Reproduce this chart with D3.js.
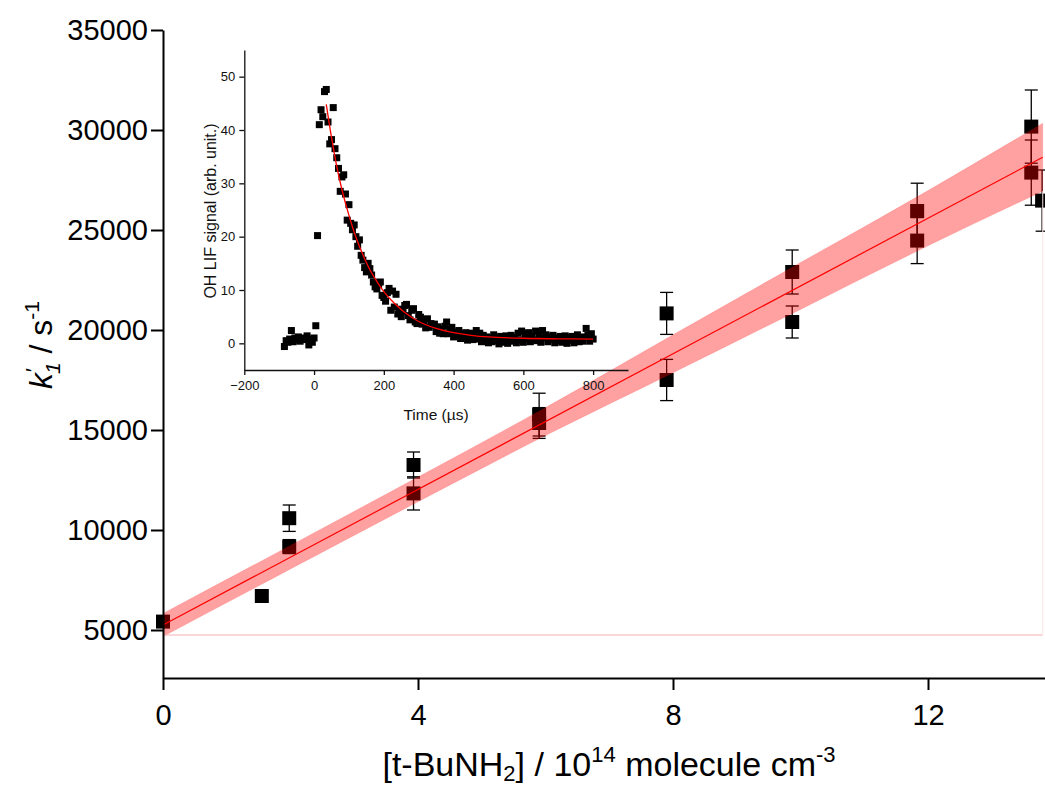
<!DOCTYPE html>
<html>
<head>
<meta charset="utf-8">
<script src="https://cdn.jsdelivr.net/npm/d3@7"></script>
<style>
  body { margin: 0; background: #fff; }
  svg text { font-family: "Liberation Sans", Arial, sans-serif; }
</style>
</head>
<body>
<div id="chart"></div>
<script>
// --- main plot: pseudo-first-order rate vs [t-BuNH2] ---
const concentration = [0, 1.55, 1.98, 1.98, 3.93, 3.93, 5.9, 5.9, 7.9, 7.9, 9.87, 9.87, 11.83, 11.83, 13.62, 13.62, 13.79];
const kFirst = [5420, 6700, 10590, 9170, 13250, 11830, 15770, 15350, 20830, 17500, 22900, 20400, 25950, 24470, 30170, 27870, 26470];
const kError = [150, 200, 660, 350, 650, 830, 1070, 770, 1050, 1030, 1100, 800, 1390, 1150, 1830, 1630, 1530];

// linear fit and its confidence band
const fitIntercept = 5250;
const fitSlope = 1695;
const fitEnd = 13.8;
const bandX = [0, 2, 4, 6, 8, 10, 12, 13.8];
const bandHalf = [575, 590, 620, 700, 950, 1170, 1380, 1700];
const bandBase = 4750;

const yMajor = [5000, 10000, 15000, 20000, 25000, 30000, 35000];
const yMinor = [3000, 4000, 6000, 7000, 8000, 9000, 11000, 12000, 13000, 14000, 16000, 17000, 18000, 19000,
  21000, 22000, 23000, 24000, 26000, 27000, 28000, 29000, 31000, 32000, 33000, 34000];
const xMajor = [0, 4, 8, 12];
const xMinor = [2 / 3, 4 / 3, 2, 8 / 3, 10 / 3, 14 / 3, 16 / 3, 6, 20 / 3, 22 / 3, 26 / 3, 28 / 3, 10, 32 / 3, 34 / 3, 38 / 3, 40 / 3];

// --- inset: OH LIF decay trace ---
const lifTime = d3.range(-85, 801, 5);
const lifSignal = [
  -0.6, 0.5, 0.2, 0.8, 2.4, 0.3, 1.0, 0.6, 1.2, 0.4,
  1.0, 0.7, 0.9, 1.4, -0.3, 0.8, 0.2, 1.0, 3.3, 20.2,
  41.0, 43.8, 42.5, 47.2, 47.6, 41.5, 37.4, 38.2, 44.2, 36.5,
  34.8, 32.8, 28.5, 31.2, 31.6, 28.0, 23.1, 26.0, 22.5, 21.3,
  22.2, 20.0, 18.2, 19.4, 16.5, 15.6, 14.2, 13.4, 15.0, 14.0,
  12.8, 11.5, 10.6, 10.2, 11.0, 11.5, 9.0, 8.6, 7.9, 9.5,
  10.3, 6.2, 9.8, 6.8, 9.2, 5.5, 6.4, 5.0, 6.0, 7.1,
  7.3, 5.2, 4.4, 6.2, 6.5, 4.0, 3.7, 5.4, 4.9, 3.6,
  4.2, 2.9, 4.6, 3.0, 3.7, 3.4, 3.6, 2.2, 3.1, 1.9,
  2.7, 1.8, 3.2, 4.0, 1.8, 2.6, 3.0, 1.2, 2.1, 1.6,
  2.4, 0.9, 1.8, 1.3, 2.0, 0.6, 1.4, 1.9, 0.7, 1.2,
  2.4, 0.8, 1.9, 0.3, 1.5, 0.6, 1.2, 0.1, 1.0, 0.3,
  1.6, 0.5, 1.0, -0.1, 1.3, 0.7, 0.2, 1.4, 0.0, 0.9,
  1.5, 0.4, 1.1, 0.1, 1.9, 0.6, 2.3, 0.2, 1.6, 0.8,
  2.0, 0.3, 1.2, 0.6, 2.3, 0.5, 1.7, 0.2, 2.4, 1.0,
  1.6, 0.3, 1.2, 0.7, 1.5, 0.1, 1.0, 0.5, 1.3, 0.2,
  0.9, 1.4, 0.0, 1.1, 0.6, 1.3, 0.1, 0.8, 1.6, 0.3,
  1.0, 0.4, 1.2, 2.8, 1.5, 0.4, 1.8, 0.8
];
const decayTime = [35, 50, 65, 80, 100, 120, 140, 160, 180, 200, 230, 260, 300, 350, 400, 450, 500, 600, 700, 800];
const decaySignal = [44.8, 38.6, 33.2, 28.8, 24.0, 19.9, 16.6, 13.8, 11.6, 9.7, 7.5, 5.8, 4.1, 2.8, 2.0, 1.5, 1.2, 0.95, 0.85, 0.8];
const insetXMajor = [-200, 0, 200, 400, 600, 800];
const insetXMinor = [-100, 100, 300, 500, 700, 900];
const insetYMajor = [0, 10, 20, 30, 40, 50];
const insetYMinor = [-5, 5, 15, 25, 35, 45, 55];

function drawChart() {
  const width = 1045, height = 785;
  const svg = d3.select("#chart").append("svg")
    .attr("width", width).attr("height", height);

  const x = d3.scaleLinear().domain([0, 14]).range([163, 1055.5]);
  const y = d3.scaleLinear().domain([2600, 35000]).range([678, 30]);

  const points = concentration.map((c, i) => ({ c: c, k: kFirst[i], e: kError[i] }));

  // error bars
  const eb = svg.append("g").attr("stroke", "#000").attr("stroke-width", 1.3);
  points.forEach((d) => {
    eb.append("line").attr("x1", x(d.c)).attr("x2", x(d.c)).attr("y1", y(d.k - d.e)).attr("y2", y(d.k + d.e));
    [d.k - d.e, d.k + d.e].forEach((v) => {
      eb.append("line").attr("x1", x(d.c) - 6.5).attr("x2", x(d.c) + 6.5).attr("y1", y(v)).attr("y2", y(v));
    });
  });

  // squares
  svg.append("g").selectAll("rect").data(points).enter().append("rect")
    .attr("x", (d) => x(d.c) - 7)
    .attr("y", (d) => y(d.k) - 7)
    .attr("width", 14).attr("height", 14)
    .attr("fill", "#000");

  // confidence band
  const band = bandX.map((b, i) => ({ x: b, lo: fitIntercept + fitSlope * b - bandHalf[i], hi: fitIntercept + fitSlope * b + bandHalf[i] }));
  svg.append("path").datum(band)
    .attr("d", d3.area().x((d) => x(d.x)).y0((d) => y(d.lo)).y1((d) => y(d.hi)).curve(d3.curveMonotoneX))
    .attr("fill", "#ff0000").attr("fill-opacity", 0.37)
    .attr("stroke", "#ff0000").attr("stroke-opacity", 0.12).attr("stroke-width", 1);

  // baseline of the band fill
  svg.append("line")
    .attr("x1", x(0)).attr("x2", x(fitEnd)).attr("y1", y(bandBase)).attr("y2", y(bandBase))
    .attr("stroke", "#f4b0b0").attr("stroke-width", 1);
  svg.append("line")
    .attr("x1", x(fitEnd)).attr("x2", x(fitEnd))
    .attr("y1", y(band[band.length - 1].lo)).attr("y2", y(bandBase))
    .attr("stroke", "#fbe4e4").attr("stroke-width", 1);

  // fit line
  svg.append("line")
    .attr("x1", x(0)).attr("y1", y(fitIntercept))
    .attr("x2", x(fitEnd)).attr("y2", y(fitIntercept + fitSlope * fitEnd))
    .attr("stroke", "#ff0000").attr("stroke-width", 1.2);

  // axes
  const gx = svg.append("g").attr("transform", "translate(0,678)");
  gx.call(d3.axisBottom(x).tickValues(xMinor).tickSize(7).tickSizeOuter(0).tickFormat(""));
  gx.call(d3.axisBottom(x).tickValues(xMajor).tickSize(12).tickSizeOuter(0).tickPadding(14).tickFormat(d3.format("d")));
  const gy = svg.append("g").attr("transform", "translate(163,0)");
  gy.call(d3.axisLeft(y).tickValues(yMinor).tickSize(6).tickSizeOuter(0).tickFormat(""));
  gy.call(d3.axisLeft(y).tickValues(yMajor).tickSize(12).tickSizeOuter(0).tickPadding(3).tickFormat(d3.format("d")));
  [gx, gy].forEach((g) => {
    g.selectAll("path, line").attr("stroke", "#000").attr("stroke-width", 2);
    g.selectAll("text").attr("font-size", 29).attr("fill", "#000").attr("font-family", "Liberation Sans, Arial, sans-serif");
  });

  // axis titles
  const yt = svg.append("text").attr("transform", "translate(52,345) rotate(-90)")
    .attr("text-anchor", "middle").attr("font-size", 32);
  yt.append("tspan").attr("font-style", "italic").text("k");
  yt.append("tspan").attr("font-style", "italic").attr("font-size", 21).attr("dy", -12).text("′");
  yt.append("tspan").attr("font-style", "italic").attr("font-size", 21).attr("dx", -5).attr("dy", 20).text("1");
  yt.append("tspan").attr("dy", -8).text(" / s");
  yt.append("tspan").attr("font-size", 21).attr("dy", -13).text("-1");

  const xt = svg.append("text").attr("x", 609).attr("y", 776)
    .attr("text-anchor", "middle").attr("font-size", 34);
  xt.append("tspan").text("[t-BuNH");
  xt.append("tspan").attr("font-size", 22).attr("dy", 5).text("2");
  xt.append("tspan").attr("dy", -5).text("] / 10");
  xt.append("tspan").attr("font-size", 22).attr("dy", -14).text("14");
  xt.append("tspan").attr("dy", 14).text(" molecule cm");
  xt.append("tspan").attr("font-size", 22).attr("dy", -14).text("-3");

  drawInset(svg);
}

function drawInset(svg) {
  const ix = d3.scaleLinear().domain([-200, 900]).range([244.3, 628]);
  const iy = d3.scaleLinear().domain([-5, 55]).range([370, 50]);
  const g = svg.append("g");

  g.append("g").selectAll("rect").data(lifTime).enter().append("rect")
    .attr("x", (t) => ix(t) - 3.5)
    .attr("y", (t, i) => iy(lifSignal[i]) - 3.5)
    .attr("width", 7).attr("height", 7)
    .attr("fill", "#000");

  g.append("path")
    .datum(decayTime.map((t, i) => [t, decaySignal[i]]))
    .attr("d", d3.line().x((d) => ix(d[0])).y((d) => iy(d[1])).curve(d3.curveCatmullRom))
    .attr("fill", "none").attr("stroke", "#ff0000").attr("stroke-width", 1.3);

  const ax = g.append("g").attr("transform", "translate(0,370)");
  ax.call(d3.axisBottom(ix).tickValues(insetXMinor).tickSize(3).tickSizeOuter(0).tickFormat(""));
  ax.call(d3.axisBottom(ix).tickValues(insetXMajor).tickSize(5).tickSizeOuter(0).tickPadding(6).tickFormat(d3.format("d")));
  const ay = g.append("g").attr("transform", "translate(244.3,0)");
  ay.call(d3.axisLeft(iy).tickValues(insetYMinor).tickSize(3.5).tickSizeOuter(0).tickFormat(""));
  ay.call(d3.axisLeft(iy).tickValues(insetYMajor).tickSize(5).tickSizeOuter(0).tickPadding(4).tickFormat(d3.format("d")));
  [ax, ay].forEach((a) => {
    a.selectAll("path, line").attr("stroke", "#111").attr("stroke-width", 1.3);
    a.selectAll("text").attr("font-size", 13).attr("fill", "#111").attr("font-family", "Liberation Sans, Arial, sans-serif");
  });

  g.append("text").attr("transform", "translate(216,211) rotate(-90)")
    .attr("text-anchor", "middle").attr("font-size", 16).attr("fill", "#111")
    .text("OH LIF signal (arb. unit.)");
  g.append("text").attr("x", 436).attr("y", 420)
    .attr("text-anchor", "middle").attr("font-size", 15.5).attr("fill", "#111")
    .text("Time (µs)");
}

drawChart();
</script>
</body>
</html>
